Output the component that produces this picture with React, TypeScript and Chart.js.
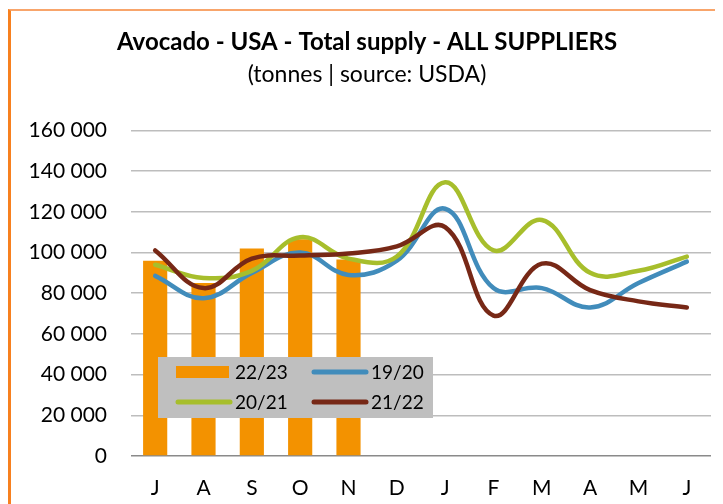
import React, { useEffect, useRef } from "react";
import { Chart, registerables } from "chart.js";

Chart.register(...registerables);

const months = ["J", "A", "S", "O", "N", "D", "J", "F", "M", "A", "M", "J"];
const s2223 = [96000, 85000, 102000, 106500, 96500, null, null, null, null, null, null, null];
const s1920 = [88500, 77500, 90000, 100000, 89000, 96000, 121500, 82500, 82500, 73000, 85000, 95500];
const s2021 = [94000, 87500, 91000, 107500, 97000, 98000, 134500, 101000, 116000, 90000, 91000, 98000];
const s2122 = [101000, 82500, 97000, 98500, 99500, 103000, 112500, 69000, 94500, 81500, 76000, 73000];
const seriesLabels = ["22/23", "19/20", "20/21", "21/22"];
const titleText = "Avocado - USA - Total supply - ALL SUPPLIERS";
const subtitleText = "(tonnes | source: USDA)";

const FONT = "Lato, 'Open Sans', sans-serif";

const fmt = (v: number) => String(v).replace(/\B(?=(\d{3})+(?!\d))/g, " ");

const insideLegend = {
  id: "insideLegend",
  afterDatasetsDraw(chart: any) {
    const { ctx, chartArea } = chart;
    const bx = chartArea.left + 27;
    const by = chartArea.bottom - 99;
    const bw = 275;
    const bh = 61;
    ctx.save();
    ctx.fillStyle = "#BFBFBF";
    ctx.fillRect(bx, by, bw, bh);
    const ds = chart.data.datasets;
    const slots = [
      { i: 0, cx: 18, ty: 15 },
      { i: 1, cx: 154, ty: 15 },
      { i: 2, cx: 18, ty: 45 },
      { i: 3, cx: 154, ty: 45 },
    ];
    ctx.font = `19px ${FONT}`;
    ctx.textBaseline = "middle";
    ctx.textAlign = "left";
    for (const s of slots) {
      const d = ds[s.i];
      const x0 = bx + s.cx;
      const y0 = by + s.ty;
      if (d.type === "bar") {
        ctx.fillStyle = d.backgroundColor;
        ctx.fillRect(x0, y0 - 6, 53, 12);
      } else {
        ctx.strokeStyle = d.borderColor;
        ctx.lineWidth = 5;
        ctx.lineCap = "round";
        ctx.beginPath();
        ctx.moveTo(x0 + 2, y0);
        ctx.lineTo(x0 + 54, y0);
        ctx.stroke();
      }
      ctx.fillStyle = "#000";
      ctx.fillText(d.label, x0 + 59, y0 + 1);
    }
    ctx.restore();
  },
};

export default function App() {
  const ref = useRef<HTMLCanvasElement | null>(null);
  useEffect(() => {
    document.documentElement.style.overflow = "hidden";
    document.body.style.overflow = "hidden";
    const lineDs = (label: string, data: number[], color: string, order: number) => ({
      type: "line" as const,
      label,
      data,
      borderColor: color,
      backgroundColor: color,
      borderWidth: 4.5,
      pointRadius: 0,
      tension: 0.4,
      borderCapStyle: "round" as const,
      fill: false,
      order,
    });
    const chart = new Chart(ref.current!, {
      type: "bar",
      data: {
        labels: months,
        datasets: [
          {
            type: "bar",
            label: seriesLabels[0],
            data: s2223,
            backgroundColor: "#F39200",
            categoryPercentage: 1,
            barPercentage: 0.5,
            order: 5,
          } as any,
          lineDs(seriesLabels[1], s1920, "#418CBB", 3),
          lineDs(seriesLabels[2], s2021, "#A7BE2C", 2),
          lineDs(seriesLabels[3], s2122, "#772816", 1),
        ],
      },
      options: {
        responsive: false,
        animation: false,
        layout: { padding: { left: 12, right: 14, top: 0, bottom: 0 } },
        plugins: {
          legend: { display: false },
          tooltip: { enabled: false },
          title: {
            display: true,
            text: titleText,
            color: "#000",
            font: { family: FONT, size: 24, weight: "bold", lineHeight: 1.2 },
            padding: { top: 17, bottom: 3 },
          },
          subtitle: {
            display: true,
            text: subtitleText,
            color: "#000",
            font: { family: FONT, size: 23, lineHeight: 1.2 },
            padding: { top: 1, bottom: 42 },
          },
        },
        scales: {
          x: {
            grid: { display: false, drawTicks: false },
            border: { display: false },
            ticks: { color: "#000", font: { family: FONT, size: 21 }, padding: 20, maxRotation: 0 },
            afterFit: (s: any) => {
              s.height = 48;
            },
          },
          y: {
            min: 0,
            max: 160000,
            border: { display: false },
            grid: {
              drawTicks: false,
              color: (c: any) => (c.tick && c.tick.value === 0 ? "#8A8A8A" : "#BDBDBD"),
              lineWidth: 1.5,
            },
            ticks: {
              stepSize: 20000,
              color: "#000",
              font: { family: FONT, size: 21 },
              padding: 24,
              callback: (v: any) => fmt(Number(v)),
            },
            afterFit: (s: any) => {
              s.width = 108;
            },
          },
        },
      },
      plugins: [insideLegend],
    } as any);
    return () => chart.destroy();
  }, []);
  return (
    <div
      style={{
        marginTop: 1,
        width: 720,
        height: 495,
        borderTop: "2px solid #F8A56B",
        borderLeft: "3px solid #F7801F",
        overflow: "hidden",
        boxSizing: "border-box",
      }}
    >
      <canvas ref={ref} width={714} height={493} style={{ display: "block" }} />
    </div>
  );
}
